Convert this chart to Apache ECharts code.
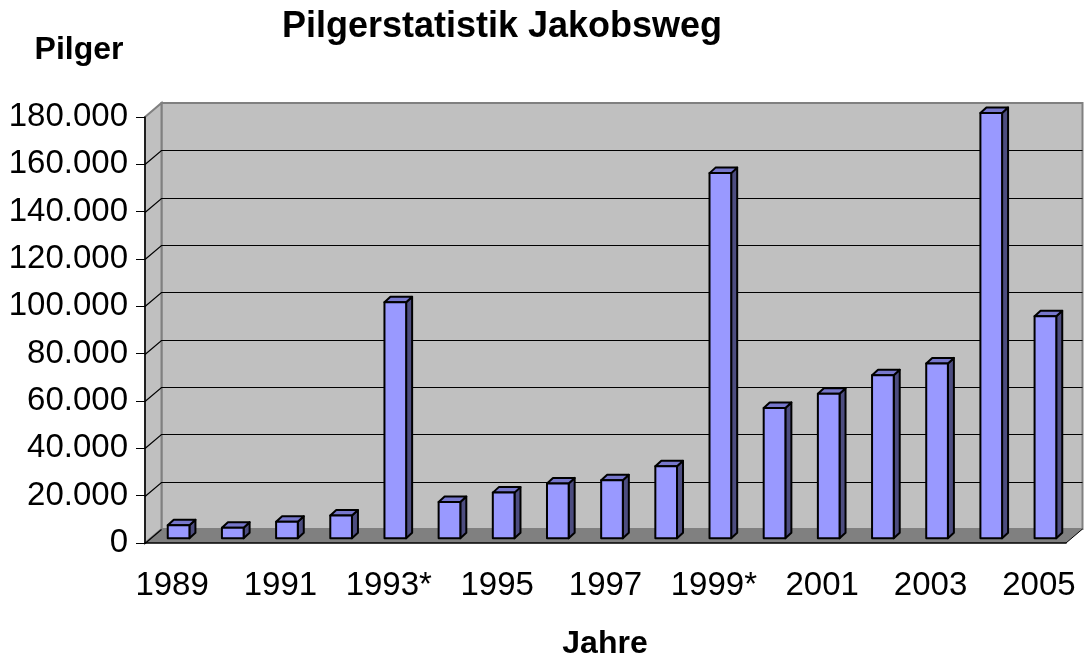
<!DOCTYPE html>
<html>
<head>
<meta charset="utf-8">
<title>Pilgerstatistik Jakobsweg</title>
<script src="https://cdn.jsdelivr.net/npm/echarts@6/dist/echarts.min.js"></script>
<style>
  html, body { margin: 0; padding: 0; background: #fff; }
  #chart-container { width: 1084px; height: 658px; }
</style>
</head>
<body>
<div id="chart-container"></div>
<script>
// Daten (1993 und 1999 = Heilige Jahre, mit *)
const years = ['1989', '1990', '1991', '1992', '1993*', '1994', '1995', '1996', '1997', '1998', '1999*', '2000', '2001', '2002', '2003', '2004', '2005'];
const pilgrims = [5500, 4500, 7000, 9600, 99700, 15300, 19300, 23200, 24500, 30400, 154300, 55100, 61100, 68900, 73900, 179700, 93800];
const yTicks = [0, 20000, 40000, 60000, 80000, 100000, 120000, 140000, 160000, 180000];

const font = "'Liberation Sans', Arial, sans-serif";
// Tiefe für den Pseudo-3D Effekt
const wallDX = 16.5, wallDY = -14;
const barOX = 6.5, barOY = -4.7;
const barDX = 6, barDY = -5.5;

function fmt(v) {
  return String(v).replace(/\B(?=(\d{3})+(?!\d))/g, '.');
}

// Rückwand, Seitenwand, Boden und Gitterlinien
function renderFrame(params, api) {
  const cs = params.coordSys;
  const x0 = cs.x, x1 = cs.x + cs.width;
  const yb = api.coord([0, yTicks[0]])[1];
  const yt = api.coord([0, yTicks[yTicks.length - 1]])[1];
  const children = [];
  children.push({
    type: 'rect',
    shape: { x: x0 + wallDX, y: yt + wallDY, width: x1 - x0, height: yb - yt },
    style: { fill: '#c0c0c0', stroke: '#808080', lineWidth: 2 }
  });
  children.push({
    type: 'polygon',
    shape: { points: [[x0, yt], [x0 + wallDX, yt + wallDY], [x0 + wallDX, yb + wallDY], [x0, yb]] },
    style: { fill: '#c0c0c0', stroke: '#808080', lineWidth: 2 }
  });
  children.push({
    type: 'polygon',
    shape: { points: [[x0, yb], [x0 + wallDX, yb + wallDY], [x1 + wallDX, yb + wallDY], [x1, yb]] },
    style: { fill: '#808080' }
  });
  yTicks.forEach((t, i) => {
    if (i === yTicks.length - 1) return;
    const y = Math.round(api.coord([0, t])[1]) + 0.5;
    const pts = i === 0
      ? [[x0, y], [x0 + wallDX, y + wallDY]]
      : [[x0, y], [x0 + wallDX, y + wallDY], [x1 + wallDX, y + wallDY]];
    children.push({
      type: 'polyline',
      shape: { points: pts },
      style: { stroke: '#000', lineWidth: 1.2, fill: null }
    });
  });
  children.push({
    type: 'line',
    shape: { x1: x1, y1: yb, x2: x1 + wallDX, y2: yb + wallDY },
    style: { stroke: '#000', lineWidth: 1 }
  });
  return { type: 'group', children: children };
}

// Säule mit Vorderseite, Dach und rechter Seite
function renderBar(params, api) {
  const i = api.value(0), v = api.value(1);
  const base = api.coord([i, 0]);
  const top = api.coord([i, v]);
  const w = api.size([1, 0])[0] * 0.4;
  const xl = base[0] - w / 2 + barOX, xr = xl + w;
  const yt = top[1] + barOY, yb = base[1] + barOY;
  const line = { stroke: '#000', lineWidth: 2, lineJoin: 'round' };
  return {
    type: 'group',
    children: [
      {
        type: 'polygon',
        shape: { points: [[xr, yt], [xr + barDX, yt + barDY], [xr + barDX, yb + barDY], [xr, yb]] },
        style: Object.assign({ fill: '#4d4d80' }, line)
      },
      {
        type: 'polygon',
        shape: { points: [[xl, yt], [xl + barDX, yt + barDY], [xr + barDX, yt + barDY], [xr, yt]] },
        style: Object.assign({ fill: '#7777cc' }, line)
      },
      {
        type: 'rect',
        shape: { x: xl, y: yt, width: w, height: yb - yt },
        style: Object.assign({ fill: '#9999ff' }, line)
      }
    ]
  };
}

function renderChart() {
  const dom = document.getElementById('chart-container');
  const myChart = echarts.init(dom, null, { renderer: 'canvas' });

  const option = {
    backgroundColor: '#ffffff',
    animation: false,
    graphic: [
      {
        type: 'text', x: 502, y: 27,
        style: { text: 'Pilgerstatistik Jakobsweg', fontFamily: font, fontSize: 36, fontWeight: 'bold', fill: '#000', align: 'center', verticalAlign: 'middle' }
      },
      {
        type: 'text', x: 79, y: 50,
        style: { text: 'Pilger', fontFamily: font, fontSize: 32, fontWeight: 'bold', fill: '#000', align: 'center', verticalAlign: 'middle' }
      },
      {
        type: 'text', x: 605, y: 644,
        style: { text: 'Jahre', fontFamily: font, fontSize: 32, fontWeight: 'bold', fill: '#000', align: 'center', verticalAlign: 'middle' }
      }
    ],
    grid: {
      left: 145,
      right: 18,
      top: 117,
      bottom: 115,
      outerBoundsMode: 'none'
    },
    xAxis: {
      type: 'category',
      data: years,
      z: 5,
      axisLine: { lineStyle: { color: '#000', width: 1.5 } },
      axisTick: { length: 8, lineStyle: { color: '#000', width: 1 } },
      axisLabel: { interval: 1, fontFamily: font, fontSize: 33, color: '#000', margin: 26 },
      splitLine: { show: false }
    },
    yAxis: {
      type: 'value',
      min: 0,
      max: 180000,
      interval: 20000,
      z: 5,
      axisLine: { show: true, lineStyle: { color: '#000', width: 1.5 } },
      axisTick: { show: true, length: 9, lineStyle: { color: '#000', width: 1 } },
      axisLabel: { formatter: fmt, fontFamily: font, fontSize: 33, color: '#000', margin: 17 },
      splitLine: { show: false }
    },
    series: [
      {
        type: 'custom',
        z: 1,
        silent: true,
        renderItem: renderFrame,
        data: [[0, 0]]
      },
      {
        type: 'custom',
        z: 3,
        renderItem: renderBar,
        data: pilgrims.map((v, i) => [i, v])
      }
    ]
  };

  myChart.setOption(option);
  window.addEventListener('resize', myChart.resize);
}
renderChart();
</script>
</body>
</html>
